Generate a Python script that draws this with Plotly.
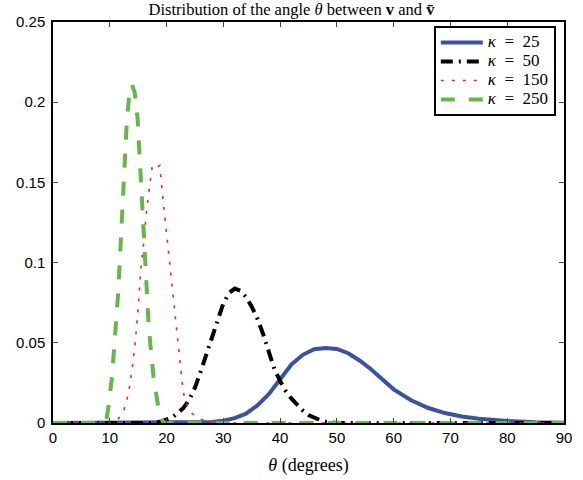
import plotly.graph_objects as go

# kappa = 25
k25_x = [0, 25, 28, 30, 32, 34, 36, 38, 40, 42, 44, 46, 48, 50, 52, 54, 56, 58, 60, 63, 66, 69, 72, 75, 80, 85, 90]
k25_y = [0, 0.0002, 0.0006, 0.0014, 0.003, 0.0058, 0.011, 0.018, 0.027, 0.0365, 0.0425, 0.046, 0.0468, 0.0462,
         0.0435, 0.039, 0.0335, 0.0272, 0.021, 0.0143, 0.0095, 0.0062, 0.0040, 0.0027, 0.0012, 0.0005, 0.0002]

# kappa = 50
k50_x = [0, 18, 19, 20, 21, 22, 23, 24, 25, 26, 27, 28, 29, 30, 31, 32, 33, 34, 35, 36, 37, 38, 39, 40, 41, 42,
         43, 44, 45, 46, 47, 48, 49, 50, 90]
k50_y = [0, 0, 0.001, 0.002, 0.0035, 0.0062, 0.0095, 0.0145, 0.022, 0.032, 0.0425, 0.0535, 0.064, 0.0745, 0.081,
         0.0838, 0.0825, 0.0785, 0.0725, 0.065, 0.0555, 0.0435, 0.0335, 0.0262, 0.0198, 0.0152, 0.0112, 0.0078,
         0.005, 0.0033, 0.0018, 0.0008, 0.0003, 0, 0]

# kappa = 150
k150_x = [0, 10.5, 11.5, 12.5, 13.0, 13.5, 14.0, 14.5, 15.0, 15.5, 16.0, 16.5, 17.0, 17.5, 18.2, 18.8, 19.5, 20.3,
          20.9, 21.5, 22.1, 22.5, 22.9, 23.2, 23.8, 24.5, 25.6, 27, 30, 90]
k150_y = [0, 0, 0.0025, 0.008, 0.014, 0.023, 0.035, 0.051, 0.072, 0.097, 0.113, 0.133, 0.147, 0.1605, 0.159,
          0.1605, 0.135, 0.107, 0.087, 0.067, 0.047, 0.034, 0.021, 0.015, 0.0095, 0.006, 0.003, 0.001, 0, 0]

# kappa = 250
k250_x = [0, 9.0, 9.4, 9.8, 10.4, 10.8, 11.15, 11.5, 11.75, 12.0, 12.25, 12.5, 12.75, 13.0, 13.4, 13.9, 14.4, 14.9,
          15.2, 15.45, 15.7, 15.95, 16.2, 16.5, 16.8, 17.2, 17.7, 18.5, 19.2, 19.6, 90]
k250_y = [0, 0, 0.002, 0.011, 0.029, 0.047, 0.064, 0.082, 0.10, 0.117, 0.135, 0.153, 0.170, 0.188, 0.203, 0.211,
          0.206, 0.19, 0.17, 0.153, 0.135, 0.117, 0.10, 0.082, 0.064, 0.047, 0.029, 0.011, 0.002, 0, 0]

kappas = ["25", "50", "150", "250"]
names = ['<span style="font-size:17px"><i>κ</i>\u2002=\u2002' + k + "</span>" for k in kappas]

x_ticks = [0, 10, 20, 30, 40, 50, 60, 70, 80, 90]
y_ticks = [0, 0.05, 0.1, 0.15, 0.2, 0.25]
y_ticklabels = ["0", "0.05", "0.1", "0.15", "0.2", "0.25"]

fig = go.Figure()
fig.add_trace(go.Scatter(x=k25_x, y=k25_y, mode="lines", name=names[0],
                         line=dict(color="#3953A4", width=4)))
fig.add_trace(go.Scatter(x=k50_x, y=k50_y, mode="lines", name=names[1],
                         line=dict(color="#000000", width=4, dash="12px,6px,2px,6px")))
fig.add_trace(go.Scatter(x=k150_x, y=k150_y, mode="lines", name=names[2],
                         line=dict(color="#FF2020", width=1.6, dash="3px,8px")))
fig.add_trace(go.Scatter(x=k250_x, y=k250_y, mode="lines", name=names[3],
                         line=dict(color="#62B946", width=4, dash="14px,14px")))

serif = "Liberation Serif, Times New Roman, serif"
sans = "Liberation Sans, Arial, sans-serif"

fig.update_layout(
    width=583, height=480,
    margin=dict(l=53, r=19, t=22, b=57),
    paper_bgcolor="white", plot_bgcolor="white",
    title=dict(text="Distribution of the angle <i>θ</i> between <b>v</b> and <b>v̄</b>",
               font=dict(family=serif, size=16.5, color="black"),
               x=0.5, xanchor="center", y=0.993, yanchor="top"),
    xaxis=dict(range=[0, 90], tickvals=x_ticks, ticks="inside", ticklen=5, tickwidth=1,
               showline=True, linecolor="black", linewidth=1.5, mirror="ticks",
               showgrid=False, zeroline=False, automargin=False,
               tickfont=dict(family=sans, size=15, color="black"),
               title=dict(text="<i>θ</i> (degrees)", font=dict(family=serif, size=18, color="black"),
                          standoff=14)),
    yaxis=dict(range=[0, 0.25], tickvals=y_ticks, ticktext=y_ticklabels, ticks="inside", ticklen=5,
               tickwidth=1, showline=True, linecolor="black", linewidth=1.5, mirror="ticks",
               showgrid=False, zeroline=False, automargin=False, ticklabelstandoff=3,
               tickfont=dict(family=sans, size=15, color="black")),
    legend=dict(x=0.984, y=0.99, xanchor="right", yanchor="top",
                bgcolor="white", bordercolor="black", borderwidth=2,
                font=dict(family=serif, size=11, color="black"),
                itemwidth=42, tracegroupgap=0),
    showlegend=True,
)

fig.write_html("out.html", config={"displayModeBar": False},
               post_script="document.body.style.margin='0';")
